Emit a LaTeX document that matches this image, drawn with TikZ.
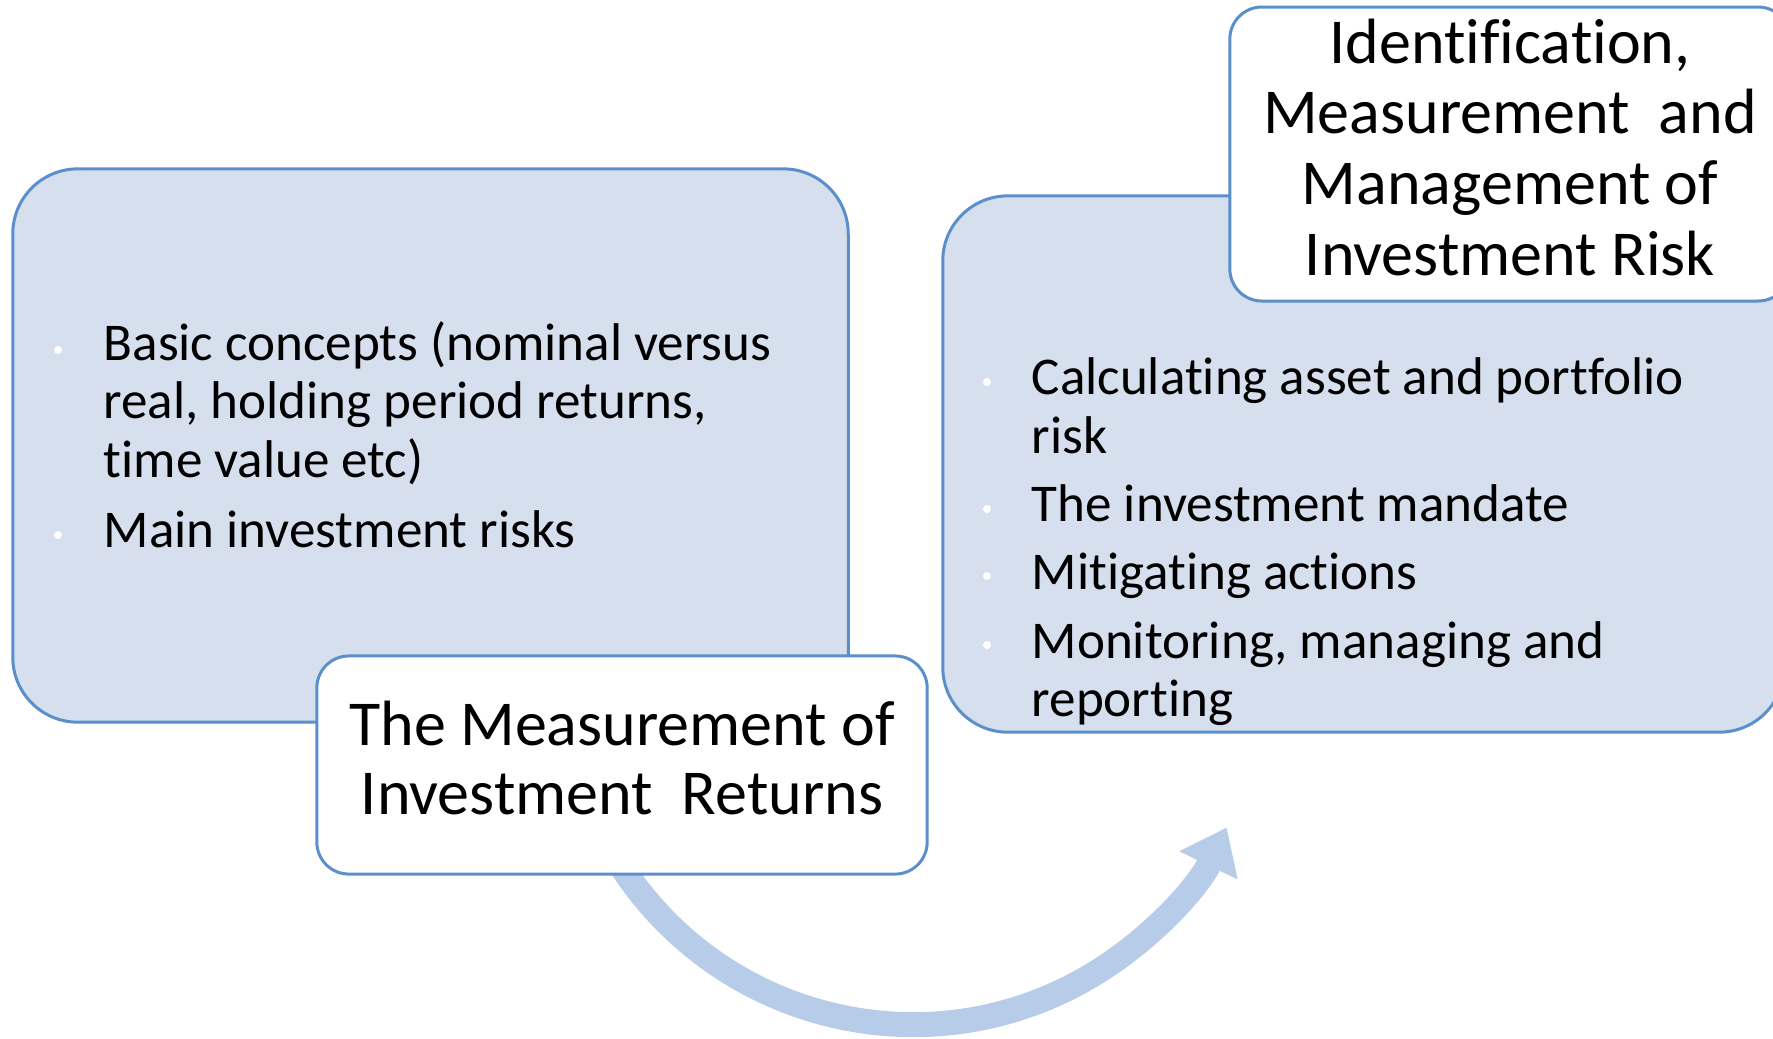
\documentclass[tikz,border=0pt]{standalone}
\usepackage{fontspec}
\setmainfont{Carlito}[Ligatures=NoCommon]
\usepackage{xcolor}
\usetikzlibrary{positioning,arrows.meta}

\definecolor{panelfill}{HTML}{D5DFEE}
\definecolor{panelline}{HTML}{5B8FCB}
\definecolor{arrowfill}{HTML}{B7CCE8}

\begin{document}
\begin{tikzpicture}[x=0.01cm, y=-0.01cm,
    panel/.style={rectangle, rounded corners=0.65cm, draw=panelline, line width=0.85pt, fill=panelfill},
    heading/.style={rectangle, rounded corners=0.32cm, draw=panelline, line width=0.85pt, fill=white, align=center,
        font=\fontsize{18.2}{19.6}\selectfont, execute at end node={\rule[-4pt]{0pt}{0pt}}},
    item/.style={anchor=base west, align=left, inner sep=0pt, font=\fontsize{15.1}{16.5}\selectfont},
    dot/.style={circle, fill=white, minimum size=0.08cm, inner sep=0pt},
    bigarrow/.style={draw=arrowfill, line width=0.25cm, -{Triangle[length=0.42cm, width=0.62cm]}}]
    \useasboundingbox (0,0) rectangle (1773,1038);
    \clip (0,0) rectangle (1773,1038);

    % returns side (items sit on the baseline of their last line)
    \node (lpanel) [panel, minimum width=8.35cm, minimum height=5.53cm] at (430.5,445.5) {};
    \node (basics) [item] at (103,477) {Basic concepts (nominal versus\\real, holding period returns,\\time value etc)};
    \node (mainrisks) [item] at (103,547) {Main investment risks};
    \foreach \y [count=\i] in {350,535}
        \node (ldot\i) [dot] at (58,\y) {};

    % arrow from returns to risk
    \coordinate (arcstart) at (618,861);
    \draw[bigarrow] (arcstart) arc[start angle=148, end angle=25.7, radius=348] coordinate (arcend);

    \node (ltitle) [heading, minimum width=6.1cm, minimum height=2.18cm] at (622,765) {The Measurement of\\Investment\ \ Returns};

    % risk side
    \node (rpanel) [panel, minimum width=8.41cm, minimum height=5.36cm] at (1363.5,464) {};
    \node (calc) [item] at (1031,453) {Calculating asset and portfolio\\risk};
    \node (mandate) [item] at (1031,521) {The investment mandate};
    \node (mitigate) [item] at (1031,589) {Mitigating actions};
    \node (monitor) [item] at (1031,716) {Monitoring, managing and\\reporting};
    \foreach \y [count=\i] in {382,509,576,645}
        \node (rdot\i) [dot] at (987,\y) {};

    \node (rtitle) [heading, font=\fontsize{18.2}{20.1}\selectfont, minimum width=5.6cm, minimum height=2.92cm] at (1510,154) {Identification,\\Measurement\ \ and\\Management of\\Investment Risk};
\end{tikzpicture}
\end{document}
